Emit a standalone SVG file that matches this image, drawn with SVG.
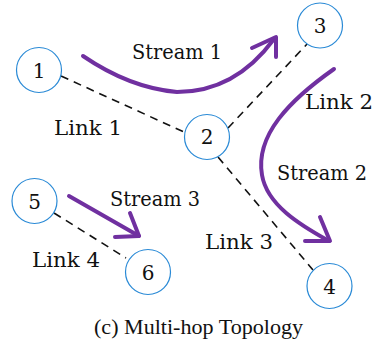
<svg xmlns="http://www.w3.org/2000/svg" width="378" height="345" viewBox="0 0 378 345">
  <defs>
    <style>
      .node circle { fill: #ffffff; stroke: #2a8ad6; stroke-width: 1.2; }
      .link { stroke: #111111; stroke-width: 1.6; stroke-dasharray: 8 6; fill: none; }
      .stream { stroke: #7030a0; stroke-width: 4; fill: none; stroke-linecap: round; stroke-linejoin: round; }
      .lbl { font-family: "DejaVu Serif", "Liberation Serif", serif; font-size: 20px; fill: #111111; }
    </style>
  </defs>

  <rect width="378" height="345" fill="#ffffff"/>

  <!-- dashed links between nodes -->
  <g id="links">
    <line class="link" x1="61" y1="76" x2="184" y2="132"/>
    <line class="link" x1="228" y1="128" x2="308" y2="43"/>
    <line class="link" x1="218" y1="157" x2="313" y2="270"/>
    <line class="link" x1="54" y1="213" x2="126" y2="258"/>
  </g>

  <!-- purple stream arrows -->
  <g id="streams">
    <path class="stream" d="M83,56 Q130,88 177,92 Q235,92 274,39"/>
    <path class="stream" d="M252,48 L276,37 L276,57"/>
    <path class="stream" d="M334,69 C290,100 255,135 262,175 C267,205 300,225 329,241"/>
    <path class="stream" d="M320,217 L330,241 L305,241"/>
    <path class="stream" d="M69,196 L139,236"/>
    <path class="stream" d="M130,213 L139,236 L115,237"/>
  </g>

  <!-- link and stream labels -->
  <g id="labels">
    <text class="lbl" x="132" y="59" textLength="90" lengthAdjust="spacingAndGlyphs">Stream 1</text>
    <text class="lbl" x="54" y="135" textLength="68" lengthAdjust="spacingAndGlyphs">Link 1</text>
    <text class="lbl" x="305" y="109" textLength="68" lengthAdjust="spacingAndGlyphs">Link 2</text>
    <text class="lbl" x="277" y="180" textLength="90" lengthAdjust="spacingAndGlyphs">Stream 2</text>
    <text class="lbl" x="110" y="206" textLength="90" lengthAdjust="spacingAndGlyphs">Stream 3</text>
    <text class="lbl" x="205" y="249" textLength="68" lengthAdjust="spacingAndGlyphs">Link 3</text>
    <text class="lbl" x="32" y="267" textLength="68" lengthAdjust="spacingAndGlyphs">Link 4</text>
  </g>

  <!-- nodes -->
  <g text-anchor="middle">
    <g id="node1" class="node"><circle cx="39" cy="70" r="22.5"/><text class="lbl" x="39" y="77.5">1</text></g>
    <g id="node2" class="node"><circle cx="207" cy="137" r="22.5"/><text class="lbl" x="207" y="143.5">2</text></g>
    <g id="node3" class="node"><circle cx="320" cy="25.5" r="22.5"/><text class="lbl" x="320" y="33">3</text></g>
    <g id="node4" class="node"><circle cx="329.5" cy="286" r="22.5"/><text class="lbl" x="329.5" y="293.5">4</text></g>
    <g id="node5" class="node"><circle cx="34.5" cy="201" r="22.5"/><text class="lbl" x="34.5" y="208.5">5</text></g>
    <g id="node6" class="node"><circle cx="148" cy="272" r="22.5"/><text class="lbl" x="148" y="279.5">6</text></g>
  </g>

  <text font-family="Liberation Serif, serif" font-size="20" fill="#111111" x="94" y="334" textLength="209" lengthAdjust="spacingAndGlyphs">(c) Multi-hop Topology</text>
</svg>
